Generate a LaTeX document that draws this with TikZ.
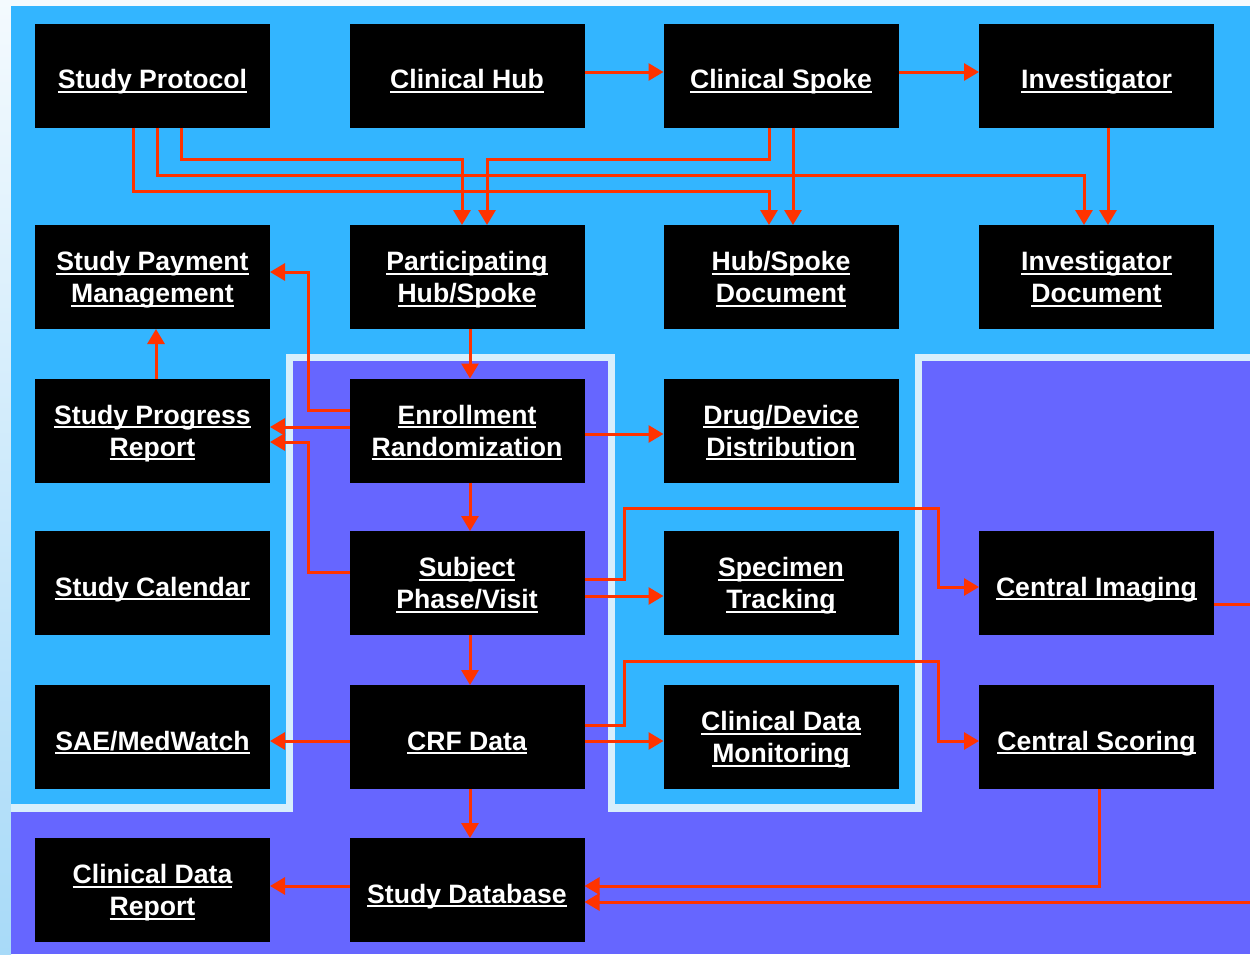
\documentclass[tikz,border=0pt]{standalone}
\usepackage{fontspec}
\setmainfont{Liberation Sans}
\usetikzlibrary{arrows.meta}
\definecolor{bgblue}{HTML}{33B5FF}
\definecolor{bgpurple}{HTML}{6666FF}
\definecolor{lnred}{HTML}{FF3300}
\definecolor{edgelight}{HTML}{D8EFFC}
\definecolor{paletop}{HTML}{F4FAFE}
\definecolor{palebot}{HTML}{A8DAF8}
\newcommand\myul[1]{\setbox0\hbox{#1}\rlap{\rule[-4pt]{\wd0}{2pt}}\box0}
\begin{document}
\begin{tikzpicture}[x=1pt,y=-1pt,
  box/.style={fill=black, minimum width=235pt, minimum height=104pt, inner sep=0pt, outer sep=0pt, text=white, font=\fontsize{26.6}{32}\selectfont\bfseries, align=center, text depth=0pt},
  one/.style={box, text height=26pt, text depth=0pt},
  conn/.style={draw=lnred, line width=3pt},
  arr/.style={conn, -{Triangle[length=15pt,width=17pt]}}]
\clip (0,0) rectangle (1250,954);
% backgrounds
\fill[paletop] (0,0) rectangle (1250,954);
\shade[top color=paletop, bottom color=palebot] (0,0) rectangle (11,954);
\fill[bgblue] (11,6) rectangle (1250,954);
\fill[edgelight] (286,354) rectangle (615,954);
\fill[edgelight] (915,354) rectangle (1250,954);
\fill[edgelight] (11,804) rectangle (1250,954);
\fill[bgpurple] (293,361) rectangle (608,954);
\fill[bgpurple] (922,361) rectangle (1250,954);
\fill[bgpurple] (11,812) rectangle (1250,954);
% row 1
\node[one] (sp)  at (152.5,75.5) {\myul{Study Protocol}};
\node[one] (ch)  at (467,75.5)   {\myul{Clinical Hub}};
\node[one] (cs)  at (781,75.5)   {\myul{Clinical Spoke}};
\node[one] (inv) at (1096.5,75.5){\myul{Investigator}};
% row 2
\node[box] (spm)  at (152.5,277) {\myul{Study Payment}\\\myul{Management}};
\node[box] (phs)  at (467,277)   {\myul{Participating}\\\myul{Hub/Spoke}};
\node[box] (hsd)  at (781,277)   {\myul{Hub/Spoke}\\\myul{Document}};
\node[box] (idoc) at (1096.5,277){\myul{Investigator}\\\myul{Document}};
% row 3
\node[box] (spr) at (152.5,430.5) {\myul{Study Progress}\\\myul{Report}};
\node[box] (er)  at (467,430.5)   {\myul{Enrollment}\\\myul{Randomization}};
\node[box] (dd)  at (781,430.5)   {\myul{Drug/Device}\\\myul{Distribution}};
% row 4
\node[one] (scal) at (152.5,583) {\myul{Study Calendar}};
\node[box] (sub)  at (467,583)   {\myul{Subject}\\\myul{Phase/Visit}};
\node[box] (st)   at (781,583)   {\myul{Specimen}\\\myul{Tracking}};
\node[one] (ci)   at (1096.5,583){\myul{Central Imaging}};
% row 5
\node[one] (sae) at (152.5,737) {\myul{SAE/MedWatch}};
\node[one] (crf) at (467,737)   {\myul{CRF Data}};
\node[box] (cdm) at (781,737)   {\myul{Clinical Data}\\\myul{Monitoring}};
\node[one] (csc) at (1096.5,737){\myul{Central Scoring}};
% row 6
\node[box] (cdr) at (152.5,890) {\myul{Clinical Data}\\\myul{Report}};
\node[one] (sdb) at (467,890)   {\myul{Study Database}};
% connectors
\draw[arr] (ch.east |- 0,72) -- (cs.west |- 0,72);
\draw[arr] (cs.east |- 0,72) -- (inv.west |- 0,72);
\draw[arr] (sp.south -| 133,0) -- ++(0,64) -| (hsd.north -| 769,0);
\draw[arr] (sp.south -| 157,0) -- ++(0,48) -| (idoc.north -| 1084,0);
\draw[arr] (sp.south -| 181,0) -- ++(0,32) -| (phs.north -| 462,0);
\draw[arr] (cs.south -| 769,0) -- ++(0,32) -| (phs.north -| 487,0);
\draw[arr] (cs.south -| 793,0) -- (hsd.north -| 793,0);
\draw[arr] (inv.south -| 1108,0) -- (idoc.north -| 1108,0);
\draw[arr] (phs.south -| 470,0) -- (er.north -| 470,0);
\draw[arr] (er.west |- 0,410) -- ++(-41,0) |- (spm.east |- 0,272);
\draw[arr] (er.west |- 0,427) -- (spr.east |- 0,427);
\draw[arr] (sub.west |- 0,572) -- ++(-41,0) |- (spr.east |- 0,442);
\draw[arr] (spr.north -| 156,0) -- (spm.south -| 156,0);
\draw[arr] (er.east |- 0,434) -- (dd.west |- 0,434);
\draw[arr] (er.south -| 470,0) -- (sub.north -| 470,0);
\draw[arr] (sub.east |- 0,579) -- ++(40,0) |- (938,508) |- (ci.west |- 0,587);
\draw[arr] (sub.east |- 0,596) -- (st.west |- 0,596);
\draw[arr] (sub.south -| 470,0) -- (crf.north -| 470,0);
\draw[arr] (crf.west |- 0,741) -- (sae.east |- 0,741);
\draw[arr] (crf.east |- 0,725) -- ++(40,0) |- (938,661) |- (csc.west |- 0,741);
\draw[arr] (crf.east |- 0,741) -- (cdm.west |- 0,741);
\draw[arr] (crf.south -| 470,0) -- (sdb.north -| 470,0);
\draw[arr] (sdb.west |- 0,886) -- (cdr.east |- 0,886);
\draw[arr] (csc.south -| 1099,0) |- (sdb.east |- 0,886);
\draw[arr] (ci.east |- 0,604) -- ++(48,0) |- (sdb.east |- 0,902);
\end{tikzpicture}
\end{document}
